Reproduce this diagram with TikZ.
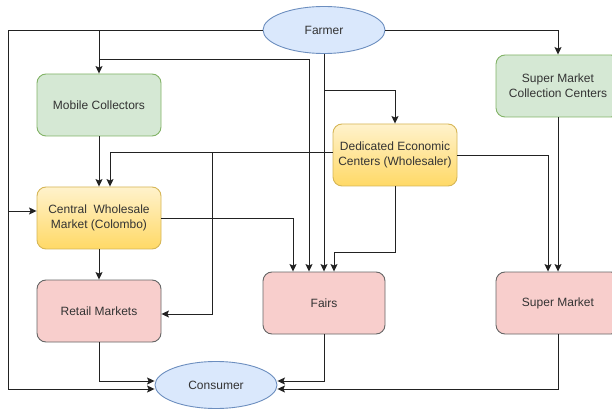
\documentclass[tikz,border=0pt]{standalone}
\usepackage{fontspec}
\setmainfont{Liberation Sans}
\usetikzlibrary{arrows.meta,shapes.geometric}
\definecolor{chblue}{HTML}{DAE8FC}
\definecolor{chblueline}{HTML}{6C8EBF}
\definecolor{chgreen}{HTML}{D5E8D4}
\definecolor{chgreenline}{HTML}{82B366}
\definecolor{chyellowtop}{HTML}{FFF2CC}
\definecolor{chyellowbot}{HTML}{FFD966}
\definecolor{chyellowline}{HTML}{D6B656}
\definecolor{chpink}{HTML}{F8CECC}
\definecolor{chpinkline}{HTML}{666666}
\definecolor{chtext}{HTML}{333333}
\definecolor{chlink}{HTML}{222222}
\tikzset{
  actor/.style={ellipse,draw=chblueline,fill=chblue,line width=.9pt,minimum width=122,minimum height=47,text=chtext},
  chbox/.style={rectangle,rounded corners=9pt,line width=.9pt,minimum width=124,minimum height=62,align=center,text=chtext},
  collectbox/.style={chbox,draw=chgreenline,fill=chgreen},
  wholebox/.style={chbox,draw=chyellowline,top color=chyellowtop,bottom color=chyellowbot},
  marketbox/.style={chbox,draw=chpinkline,fill=chpink},
  link/.style={draw=chlink,line width=.9pt,-{Stealth[length=7.5pt,width=7pt,inset=1.5pt]}}
}
\begin{document}
\begin{tikzpicture}[x=1pt,y=-1pt,font=\fontsize{12}{15}\selectfont]
\clip (0,0) rectangle (612,411);
\fill[white] (0,0) rectangle (612,411);
\node[actor] (farmer) at (324,30) {Farmer};
\node[collectbox] (mobile) at (99,105) {Mobile Collectors};
\node[collectbox] (smcc) at (558,86) {Super Market\\Collection Centers};
\node[wholebox] (dedicated) at (395,155) {Dedicated Economic\\Centers (Wholesaler)};
\node[wholebox] (central) at (99,218) {Central\ \ Wholesale\\Market (Colombo)};
\node[marketbox] (retail) at (99,311) {Retail Markets};
\node[marketbox, minimum width=122] (fairs) at (324,303) {Fairs};
\node[marketbox] (supermkt) at (558,303) {Super Market};
\node[actor] (consumer) at (216,385) {Consumer};
\draw[link] (farmer.west) -- (8,30) |- ([yshift=-4pt]consumer.west);
\draw[link] (farmer.west) -- (8,30) |- ([yshift=7pt]central.west);
\draw[link] (farmer.west) -| (mobile.north);
\draw[link] (farmer.west) -- (99,30) -- (99,59) -| ([xshift=-15pt]fairs.north);
\draw[link] (farmer.south) -- (fairs.north);
\draw[link] (farmer.south) -- ++(0,37) -| (dedicated.north);
\draw[link] (farmer.east) -| (smcc.north);
\draw[link] (mobile.south) -- (central.north);
\draw[link] ([yshift=3pt]dedicated.west) -| ([xshift=11pt]central.north);
\draw[link] ([yshift=3pt]dedicated.west) -- (212,152) |- ([yshift=-3pt]retail.east);
\draw[link] (dedicated.east) -| ([xshift=-10pt]supermkt.north);
\draw[link] (dedicated.south) -- ++(0,66) -| ([xshift=10pt]fairs.north);
\draw[link] (smcc.south) -- (supermkt.north);
\draw[link] (central.east) -| ([xshift=-31pt]fairs.north);
\draw[link] (central.south) -- (retail.north);
\draw[link] (retail.south) |- ([yshift=4pt]consumer.west);
\draw[link] (fairs.south) |- ([yshift=4pt]consumer.east);
\draw[link] (supermkt.south) |- ([yshift=-4pt]consumer.east);
\end{tikzpicture}
\end{document}
